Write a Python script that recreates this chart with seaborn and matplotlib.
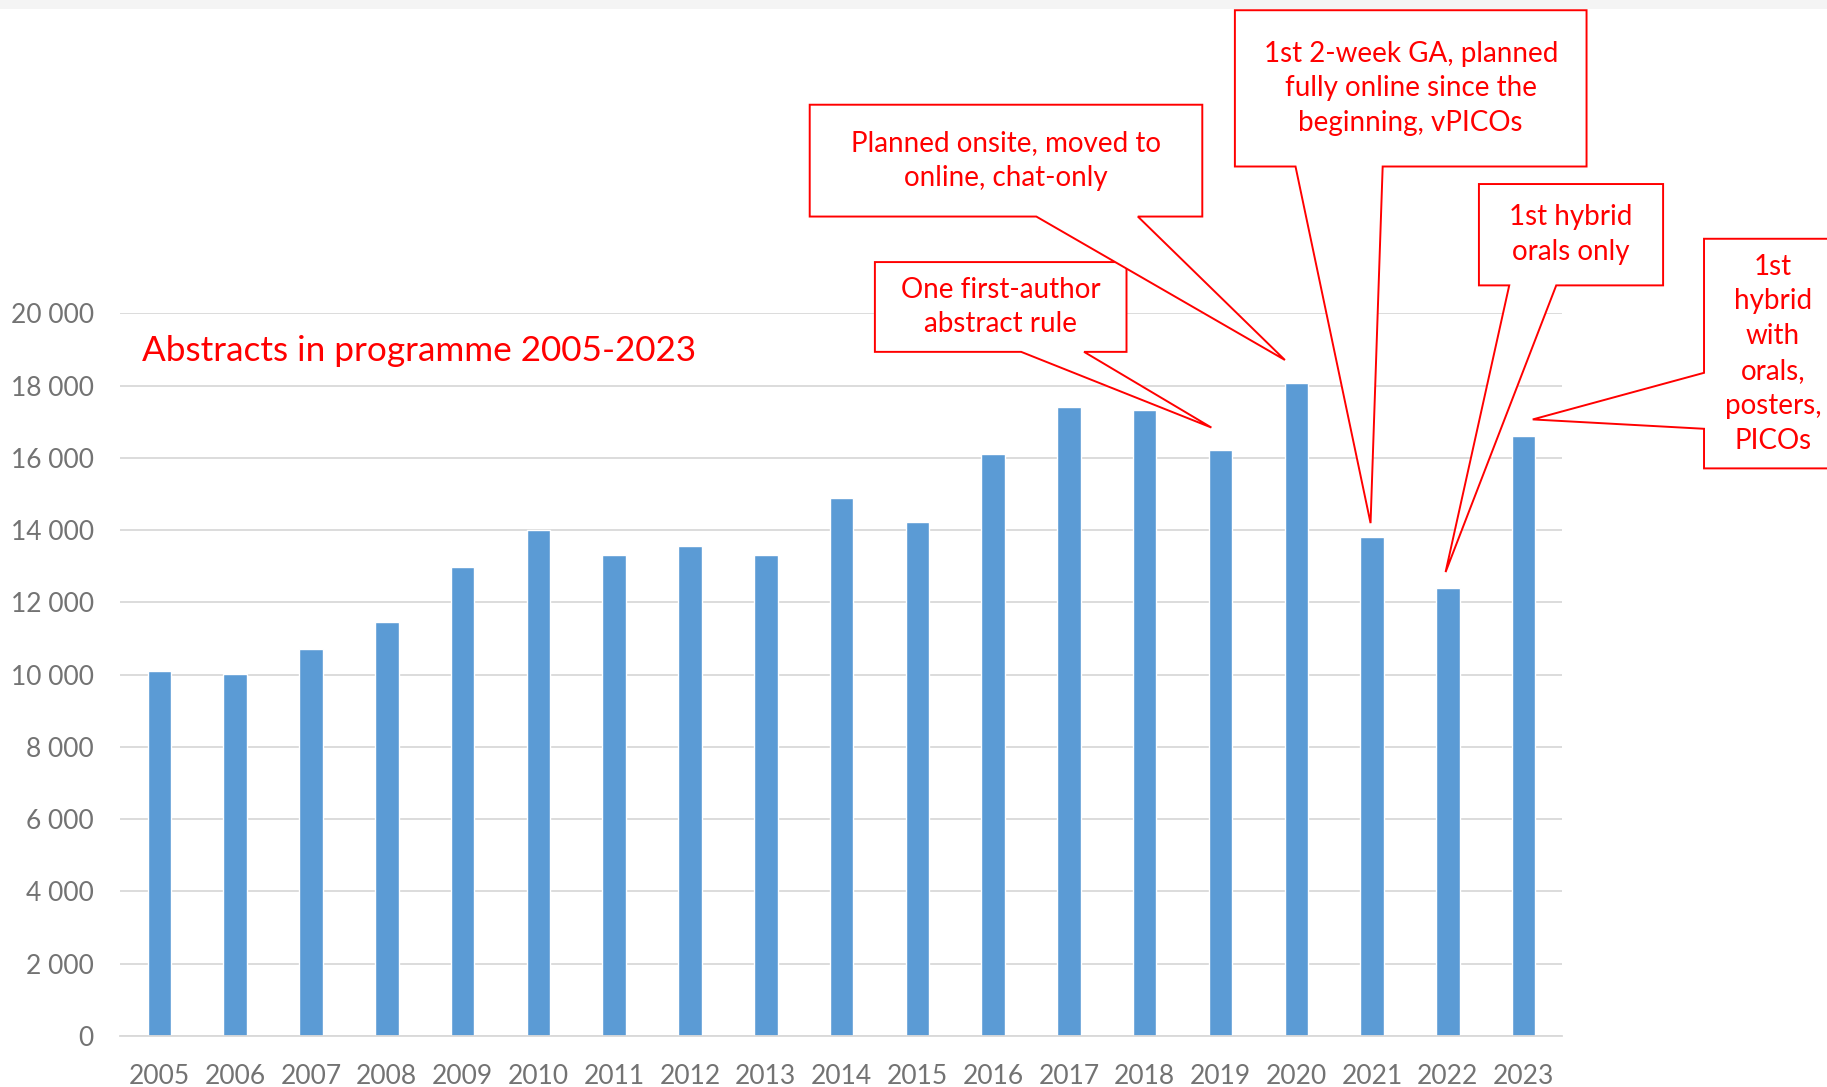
import matplotlib
matplotlib.use("Agg")
import matplotlib.pyplot as plt
import seaborn as sns
import pandas as pd
from matplotlib.patches import Polygon, Rectangle

# ---- data ----
years = ["2005", "2006", "2007", "2008", "2009", "2010", "2011", "2012", "2013", "2014",
         "2015", "2016", "2017", "2018", "2019", "2020", "2021", "2022", "2023"]
abstracts = [10100, 10030, 10710, 11450, 12970, 14000, 13320, 13550, 13320, 14900,
             14230, 16100, 17420, 17330, 16230, 18070, 13810, 12390, 16610]
y_ticks = [0, 2000, 4000, 6000, 8000, 10000, 12000, 14000, 16000, 18000, 20000]
title_text = "Abstracts in programme 2005-2023"
notes = [
    "One first-author\nabstract rule",
    "Planned onsite, moved to\nonline, chat-only",
    "1st 2-week GA, planned\nfully online since the\nbeginning, vPICOs",
    "1st hybrid\norals only",
    "1st\nhybrid\nwith\norals,\nposters,\nPICOs",
]

sns.set_theme(style="white")
FONT = ["Lato", "DejaVu Sans"]
plt.rcParams["font.family"] = FONT

BLUE = "#5B9BD5"
GRID = "#D9D9D9"
TICK = "#737373"
RED = "#FF0000"

fig = plt.figure(figsize=(18.27, 10.87), dpi=100)
fig.patch.set_facecolor("white")
# faint screenshot band at the top
fig.patches.append(Rectangle((0, 1 - 9 / 1087), 1, 9 / 1087, transform=fig.transFigure,
                             facecolor="#f4f4f4", edgecolor="none", zorder=0))

ax = fig.add_axes([0.0657, 0.0469, 0.789, 0.6648])
df = pd.DataFrame({"year": years, "abstracts": abstracts})
sns.barplot(data=df, x="year", y="abstracts", color=BLUE, saturation=1, width=0.31,
            ax=ax, zorder=2)

ax.set_xlim(-0.52, 18.5)
ax.set_ylim(0, 20000)
ax.set_yticks(y_ticks)
ax.set_yticklabels([f"{v:,}".replace(",", " ") for v in y_ticks])
ax.set_xlabel("")
ax.set_ylabel("")
ax.grid(axis="y", color=GRID, linewidth=1.3, zorder=0)
ax.set_axisbelow(True)
for s in ["top", "left", "right"]:
    ax.spines[s].set_visible(False)
ax.spines["bottom"].set_color(GRID)
ax.spines["bottom"].set_linewidth(1.3)
ax.tick_params(axis="y", length=0, pad=19, labelsize=19, labelcolor=TICK)
ax.tick_params(axis="x", length=0, pad=20, labelsize=19, labelcolor=TICK)

ax.text(-0.23, 18970, title_text, color=RED, fontsize=25.3, ha="left", va="center")


def callout(x0, x1, yb, yt, pointer, text, tx=None, ty=None):
    if pointer[0] == "bottom":
        _, b1, b2, tip = pointer
        pts = [(x0, yt), (x1, yt), (x1, yb), (b2, yb), tip, (b1, yb), (x0, yb)]
    else:  # left
        _, b1, b2, tip = pointer
        pts = [(x0, yt), (x1, yt), (x1, yb), (x0, yb), (x0, b1), tip, (x0, b2)]
    poly = Polygon(pts, closed=True, facecolor="white", edgecolor=RED, linewidth=1.4,
                   clip_on=False, zorder=5)
    ax.add_patch(poly)
    if tx is None:
        tx = (x0 + x1) / 2
    if ty is None:
        ty = (yb + yt) / 2
    ax.text(tx, ty, text, color=RED, fontsize=20, ha="center", va="center",
            linespacing=1.42, zorder=6, clip_on=False)


callout(9.44, 12.76, 18935, 21420, ("bottom", 11.37, 12.20, (13.88, 16840)), notes[0])
callout(8.58, 13.76, 22680, 25775, ("bottom", 11.57, 12.91, (14.85, 18710)), notes[1])
callout(14.19, 18.83, 24065, 28390, ("bottom", 14.99, 16.14, (15.98, 14195)), notes[2])
callout(17.41, 19.84, 20775, 23580, ("bottom", 17.81, 18.43, (16.97, 12840)), notes[3])
callout(20.38, 22.6, 15710, 22065, ("left", 16806, 18355, (18.12, 17065)), notes[4],
        tx=21.29)

fig.savefig("out.png", dpi=100, facecolor="white")
